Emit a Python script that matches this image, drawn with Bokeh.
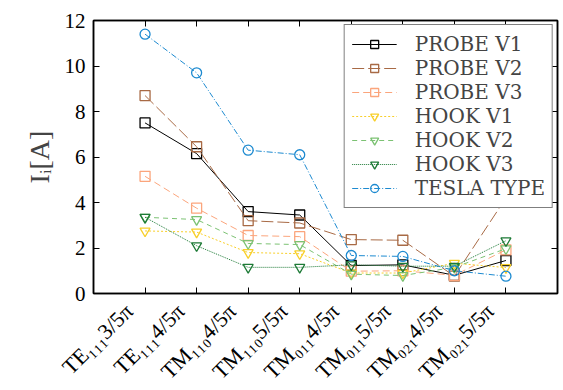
import math
from bokeh.plotting import figure
from bokeh.models import FixedTicker, LinearAxis, Range1d, Legend, LegendItem
from bokeh.embed import file_html
from bokeh.resources import INLINE

categories = ["TE₁₁₁3/5π", "TE₁₁₁4/5π", "TM₁₁₀4/5π", "TM₁₁₀5/5π",
              "TM₀₁₁4/5π", "TM₀₁₁5/5π", "TM₀₂₁4/5π", "TM₀₂₁5/5π"]
probe_v1 = [7.5, 6.15, 3.6, 3.45, 1.23, 1.26, 0.8, 1.45]
probe_v2 = [8.7, 6.45, 3.2, 3.1, 2.37, 2.34, 0.76, 4.2]
probe_v3 = [5.15, 3.75, 2.55, 2.5, 0.98, 1.0, 0.8, 1.92]
hook_v1 = [2.75, 2.7, 1.8, 1.75, 0.9, 0.9, 1.33, 1.14]
hook_v2 = [3.35, 3.25, 2.2, 2.15, 0.85, 0.79, 1.15, 1.97]
hook_v3 = [3.35, 2.1, 1.15, 1.15, 1.26, 1.2, 1.2, 2.32]
tesla = [11.4, 9.7, 6.3, 6.1, 1.67, 1.63, 1.0, 0.76]
y_ticks = [0, 2, 4, 6, 8, 10, 12]

FONT = "Liberation Serif"
LEG_FONT = "DejaVu Serif"
xs = list(range(1, len(categories) + 1))
LABEL_SHIFT = 0.3125  # category labels sit a little left of their tick

p = figure(frame_width=464, frame_height=273, output_backend="svg",
           toolbar_location=None, x_range=Range1d(0, 9), y_range=Range1d(0, 12),
           min_border_left=93, min_border_right=2, min_border_top=20,
           min_border_bottom=10)
p.grid.visible = False
p.outline_line_color = "black"
p.outline_line_width = 1.5

series = [
    ("PROBE V1", probe_v1, "black", "solid", "square"),
    ("PROBE V2", probe_v2, "#a86a45", "12 4", "square"),
    ("PROBE V3", probe_v3, "#fba57c", "7 4", "square"),
    ("HOOK V1", hook_v1, "#f8cf2a", "2 2", "inverted_triangle"),
    ("HOOK V2", hook_v2, "#7cc273", "5 4", "inverted_triangle"),
    ("HOOK V3", hook_v3, "#1d7a36", "1 1", "inverted_triangle"),
    ("TESLA TYPE", tesla, "#1d8ad0", "6 2 1 2", "circle"),
]
items = []
for name, ys, col, dash, mk in series:
    l = p.line(xs, ys, line_color=col, line_width=1, line_dash=dash)
    s = p.scatter(xs, ys, marker=mk, size=10, line_color=col, line_width=1.3,
                  fill_color=None)
    items.append(LegendItem(label=name, renderers=[l, s]))

legend = Legend(items=items, location="top_right")
legend.label_text_font = LEG_FONT
legend.label_text_font_size = "20px"
legend.label_height = 20
legend.glyph_width = 45
legend.glyph_height = 20
legend.spacing = 0
legend.padding = 7
legend.margin = 4
legend.label_standoff = 18
legend.border_line_color = "black"
legend.border_line_width = 1.2
legend.background_fill_alpha = 1
p.add_layout(legend)

def style(ax, labels=True):
    ax.axis_line_width = 1.5
    ax.axis_line_color = "black"
    ax.major_tick_in = 6
    ax.major_tick_out = 0
    ax.minor_tick_line_color = None
    ax.major_tick_line_width = 1
    ax.major_label_text_font = FONT
    ax.major_label_text_font_size = "21px"
    ax.major_label_text_color = "black"
    if not labels:
        ax.major_label_text_alpha = 0
        ax.major_label_text_font_size = "1px"
        ax.major_label_standoff = 0

xa = p.xaxis[0]
xa.ticker = FixedTicker(ticks=xs)
style(xa, labels=False)

# second bottom axis carrying only the rotated category labels
label_ticks = [x - LABEL_SHIFT for x in xs]
xl = LinearAxis(ticker=FixedTicker(ticks=label_ticks))
xl.major_label_overrides = {t: c for t, c in zip(label_ticks, categories)}
xl.major_label_orientation = math.pi / 4
xl.axis_line_color = None
xl.major_tick_line_color = None
xl.minor_tick_line_color = None
xl.major_tick_in = 0
xl.major_tick_out = 0
xl.major_label_standoff = 14
xl.major_label_text_font = FONT
xl.major_label_text_font_size = "22px"
xl.major_label_text_color = "black"
p.add_layout(xl, "below")

ya = p.yaxis[0]
ya.ticker = FixedTicker(ticks=y_ticks)
style(ya)
ya.major_label_standoff = 8
ya.axis_label = "Iᵢ[A]"
ya.axis_label_text_font = FONT
ya.axis_label_text_font_size = "28px"
ya.axis_label_text_font_style = "normal"
ya.axis_label_standoff = 7

top = LinearAxis(ticker=FixedTicker(ticks=xs))
style(top, labels=False)
p.add_layout(top, "above")
right = LinearAxis(ticker=FixedTicker(ticks=y_ticks))
style(right, labels=False)
p.add_layout(right, "right")

open("out.html", "w").write(file_html(p, INLINE))
